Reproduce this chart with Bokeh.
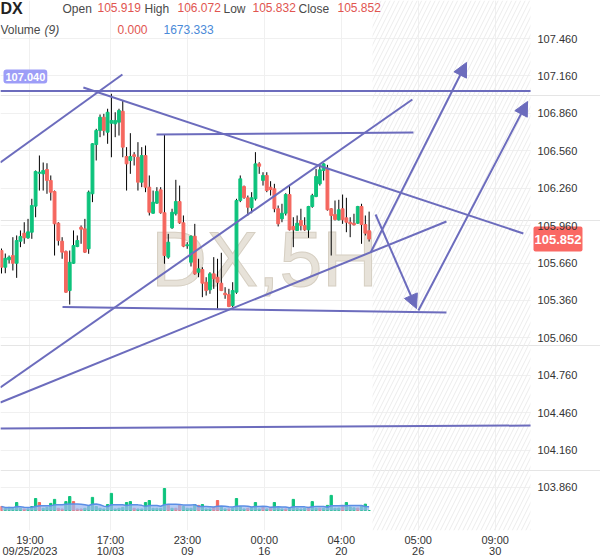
import pandas as pd
from bokeh.plotting import figure
from bokeh.models import (Range1d, FixedTicker, Label, BoxAnnotation, Arrow, NormalHead,
                          ColumnDataSource, Grid)
from bokeh.embed import file_html
from bokeh.resources import INLINE

FONT = "Liberation Sans"

# ---------------- data ----------------
symbol = "DX"
open_ = [105.760, 105.626, 105.686, 105.720, 105.658, 105.835, 105.899, 105.862, 105.907, 106.116,
         106.380, 106.375, 106.410, 106.322, 106.233, 105.979, 105.835, 105.752, 105.439, 105.658,
         105.792, 105.947, 105.934, 105.774, 106.215, 106.610, 106.723, 106.829, 106.709, 106.781,
         106.776, 106.789, 106.877, 106.514, 106.482, 106.528, 106.508, 106.308, 106.522, 106.268,
         106.059, 106.140, 106.247, 106.063, 105.707, 105.942, 106.055, 106.153, 105.982, 105.798,
         105.666, 105.875, 105.586, 105.608, 105.506, 105.445, 105.573, 105.546, 105.498, 105.418,
         105.407, 105.319, 105.426, 106.161, 106.273, 106.183, 106.103, 106.175, 106.455, 106.322,
         106.362, 106.268, 106.255, 106.095, 106.014, 106.059, 106.209, 105.953, 105.921, 106.001,
         105.961, 105.926, 106.113, 106.193, 106.295, 106.402, 106.420, 106.095, 106.049, 106.006,
         106.095, 106.022, 105.987, 105.979, 105.979, 106.113, 105.969, 105.919]
high_ = [105.776, 105.736, 105.720, 105.867, 105.881, 105.921, 105.987, 106.014, 106.175, 106.402,
         106.522, 106.466, 106.460, 106.362, 106.241, 105.987, 105.867, 105.760, 105.760, 105.921,
         105.881, 105.961, 106.014, 106.241, 106.620, 106.736, 106.851, 106.856, 106.897, 107.017,
         106.869, 106.897, 106.963, 106.589, 106.701, 106.549, 106.629, 106.589, 106.602, 106.362,
         106.241, 106.268, 106.268, 106.688, 105.894, 106.095, 106.327, 106.281, 106.041, 105.827,
         105.881, 105.974, 105.694, 105.626, 105.546, 105.586, 105.707, 105.694, 105.742, 105.466,
         105.453, 105.506, 106.175, 106.362, 106.281, 106.201, 106.228, 106.549, 106.468, 106.388,
         106.388, 106.316, 106.295, 106.121, 106.135, 106.220, 106.281, 106.027, 106.041, 106.095,
         106.027, 106.118, 106.215, 106.415, 106.442, 106.460, 106.447, 106.100, 106.161, 106.167,
         106.209, 106.183, 106.027, 106.055, 106.118, 106.135, 106.041, 106.072]
low_ = [105.576, 105.578, 105.656, 105.600, 105.541, 105.787, 105.814, 105.854, 105.854, 106.027,
        106.241, 106.241, 106.215, 106.161, 105.720, 105.800, 105.694, 105.421, 105.327, 105.654,
        105.787, 105.814, 105.740, 105.734, 106.148, 106.482, 106.669, 106.682, 106.616, 106.508,
        106.669, 106.682, 106.508, 106.241, 106.375, 106.442, 106.241, 106.268, 106.228, 106.041,
        106.055, 106.135, 106.055, 105.654, 105.694, 105.934, 106.041, 105.974, 105.787, 105.774,
        105.632, 105.566, 105.546, 105.386, 105.399, 105.413, 105.453, 105.293, 105.435, 105.373,
        105.306, 105.306, 105.413, 106.148, 106.175, 106.041, 106.059, 106.161, 106.375, 106.281,
        106.228, 106.201, 106.067, 105.953, 105.987, 106.041, 105.921, 105.787, 105.918, 105.921,
        105.918, 105.862, 106.103, 106.188, 106.281, 106.322, 106.080, 105.720, 106.001, 106.001,
        105.974, 105.907, 105.867, 105.961, 105.974, 105.814, 105.881, 105.832]
close_ = [105.626, 105.698, 105.707, 105.658, 105.840, 105.873, 105.862, 105.910, 106.121, 106.394,
          106.388, 106.402, 106.322, 106.228, 105.974, 105.840, 105.747, 105.426, 105.666, 105.800,
          105.840, 105.931, 105.747, 106.228, 106.616, 106.723, 106.829, 106.723, 106.869, 106.803,
          106.803, 106.883, 106.589, 106.455, 106.514, 106.514, 106.308, 106.522, 106.268, 106.067,
          106.148, 106.233, 106.063, 105.720, 105.827, 106.067, 106.153, 105.982, 105.795, 105.806,
          105.875, 105.573, 105.613, 105.498, 105.439, 105.573, 105.533, 105.506, 105.439, 105.405,
          105.311, 105.439, 106.161, 106.335, 106.185, 106.107, 106.183, 106.455, 106.436, 106.362,
          106.241, 106.249, 106.095, 105.974, 106.059, 106.209, 105.926, 105.926, 105.979, 105.961,
          105.926, 106.113, 106.201, 106.354, 106.407, 106.455, 106.087, 106.041, 106.009, 106.087,
          106.006, 105.987, 105.974, 105.966, 106.113, 105.969, 105.899, 105.852]
volume = [1800, 1000, 1400, 1000, 3600, 1000, 700, 700, 1800, 5400,
          3600, 1000, 1400, 3200, 5000, 1000, 700, 4000, 6300, 4000,
          700, 700, 1000, 1800, 5900, 1800, 1000, 700, 2700, 7700,
          700, 1000, 1400, 3600, 4000, 1000, 700, 700, 3600, 4500,
          1000, 1000, 1000, 9900, 2700, 1000, 1000, 2700, 1800, 1000,
          1000, 2700, 2300, 2700, 700, 700, 1400, 4500, 1800, 700,
          700, 1000, 5400, 1800, 700, 1000, 1400, 3600, 700, 1400,
          700, 1400, 3600, 1000, 700, 700, 1000, 5000, 1000, 700,
          1000, 1400, 4000, 1000, 1000, 1000, 2300, 6800, 1000, 1100,
          1700, 3600, 1600, 1200, 1100, 1900, 2860, 0]
vol_dir = list("rgggggrgggrgggg" "rrggrrrgggggggggg" "gggrggggggggrgrr" "ggggrgggrrgg"
               "rggggrgggrgrgggrgggggrggrgggggrgggrg")
vol_dir = (vol_dir + ["g"] * 98)[:98]
ma_period = 9

x_ticks = [7.5, 28.75, 49.05, 69.35, 89.65, 109.95, 130.25]
x_tick_labels = ["19:00\n09/25/2023", "17:00\n10/03", "23:00\n09", "00:00\n16",
                 "04:00\n20", "05:00\n26", "09:00\n30"]
y_ticks = [103.860, 104.160, 104.460, 104.760, 105.060, 105.360, 105.660,
           105.960, 106.260, 106.560, 106.860, 107.160, 107.460]

# drawn trend lines (bar index, price)
tl_x0 = [-0.3, -0.3, 40.9, 16.1, 21.6, -0.3, -0.3, -0.3]
tl_y0 = [107.040, 104.333, 106.690, 105.307, 107.067, 106.466, 104.662, 104.541]
tl_x1 = [139.6, 139.6, 108.7, 117.4, 137.7, 31.9, 108.4, 117.4]
tl_y1 = [107.040, 104.357, 106.707, 105.263, 105.897, 107.172, 106.971, 105.993]
# arrows
ar_x0 = [98.7, 97.4, 110.0]
ar_y0 = [106.049, 105.744, 105.279]
ar_x1 = [109.5, 122.7, 138.8]
ar_y1 = [105.295, 107.268, 106.955]

hline_label = "107.040"
last_price = 105.852
future_start = 97.9
chart_end = 139.58          # right edge of the price pane (bar index)
watermark_pos = (69.4, 105.69)

# ---------------- figure ----------------
GREEN = "#0dc37c"
RED = "#f5675f"
LINE = "#6c6cbd"
GRIDC = "#f0f0f0"

p = figure(frame_width=600, frame_height=530, output_backend="svg", toolbar_location=None,
           x_range=Range1d(-0.264, 158.05), y_range=Range1d(103.515, 107.765),
           y_axis_location=None, min_border_left=0, min_border_top=0,
           min_border_right=0, min_border_bottom=28)
p.outline_line_color = None
p.background_fill_color = "white"
p.border_fill_color = "white"

# x axis
xt = FixedTicker(ticks=x_ticks)
ax = p.xaxis[0]
ax.ticker = xt
ax.major_label_overrides = {t: l for t, l in zip(x_ticks, x_tick_labels)}
ax.axis_line_color = None
ax.major_tick_line_color = None
ax.minor_tick_line_color = None
ax.major_tick_out = 0
ax.major_tick_in = 0
ax.major_label_text_font = FONT
ax.major_label_text_font_size = "11px"
ax.major_label_text_color = "#333333"
ax.major_label_text_line_height = 0.95
ax.major_label_standoff = 3
p.xgrid.ticker = xt
p.xgrid.grid_line_color = GRIDC

# horizontal price grid (stops at the price scale)
yg = Grid(dimension=1, ticker=FixedTicker(ticks=y_ticks), grid_line_color=GRIDC)
try:
    yg.cross_bounds = (-0.264, chart_end)
except Exception:
    pass
p.add_layout(yg)

# future hatched area
p.add_layout(BoxAnnotation(left=future_start, right=chart_end, fill_alpha=0, line_color=None,
                           hatch_pattern="/", hatch_color="#ececec", hatch_scale=9,
                           hatch_weight=1, level="underlay"))

# watermark
wm = Label(x=watermark_pos[0], y=watermark_pos[1], text="DX,5H",
           text_align="center", text_baseline="alphabetic", text_font=FONT,
           text_font_size="77px", text_color="#e7e2d9", level="underlay")
try:
    wm.text_outline_color = "#d6cfc2"
except Exception:
    pass
p.add_layout(wm)

# volume
p.extra_y_ranges = {"vol": Range1d(-9000, 229500)}
idx = list(range(len(close_)))
ma = pd.Series(volume).rolling(ma_period, min_periods=1).mean().tolist()
vsrc = ColumnDataSource(dict(x=idx, v=volume,
                             c=[GREEN if d == "g" else RED for d in vol_dir], ma=ma,
                             zero=[0] * len(idx)))
p.vbar(x="x", top="v", bottom=0, width=0.6, color="c", source=vsrc, y_range_name="vol")
p.varea(x="x", y1="zero", y2="ma", source=vsrc, fill_color="#9db9f0", fill_alpha=0.75,
        y_range_name="vol")
p.line(x="x", y="ma", source=vsrc, line_color="#5b8ee6", line_width=1.5, y_range_name="vol")

# candles
csrc = ColumnDataSource(dict(
    x=idx, o=open_, h=high_, l=low_, c=close_,
    top=[max(o, c) for o, c in zip(open_, close_)],
    bot=[min(o, c) for o, c in zip(open_, close_)],
    col=[GREEN if c >= o else RED for o, c in zip(open_, close_)]))
p.segment(x0="x", y0="h", x1="x", y1="l", source=csrc, line_color="black", line_width=1)
p.vbar(x="x", top="top", bottom="bot", width=0.75, fill_color="col", line_color="col",
       source=csrc)

# trend lines
p.segment(x0=tl_x0, y0=tl_y0, x1=tl_x1, y1=tl_y1, line_color=LINE, line_width=2)
for x0, y0, x1, y1 in zip(ar_x0, ar_y0, ar_x1, ar_y1):
    p.add_layout(Arrow(x_start=x0, y_start=y0, x_end=x1, y_end=y1, line_color=LINE,
                       line_width=2,
                       end=NormalHead(size=14, fill_color=LINE, line_color=LINE)))

# last-price tag (drawn first so the scale labels stay readable)
p.add_layout(Label(x=533, y=last_price, x_units="screen", y_units="data",
                   text=f"{last_price:.3f}", text_font=FONT, text_font_size="13px",
                   text_font_style="bold", text_color="white", text_baseline="middle",
                   background_fill_color="#fa6964", padding=(1, 8), border_radius=2))

# price scale labels
for t in y_ticks:
    p.add_layout(Label(x=537, y=t, x_units="screen", y_units="data", text=f"{t:.3f}",
                       text_font=FONT, text_font_size="11px", text_color="#333333",
                       text_baseline="middle"))

# horizontal line tag
p.add_layout(Label(x=3, y=454, x_units="screen", y_units="screen", text=hline_label,
                   text_font=FONT, text_font_size="11px", text_font_style="bold",
                   text_color="white", text_baseline="middle",
                   background_fill_color="#9d9df7", padding=(2, 3), border_radius=3))

# header legend
def hdr(x, y, text, color="#4a4a4a", size="12px", style="normal"):
    p.add_layout(Label(x=x, y=530 - y, x_units="screen", y_units="screen", text=text,
                       text_font=FONT, text_font_size=size, text_font_style=style,
                       text_color=color, text_baseline="middle"))

RV = "#e15550"
hdr(0, 8, symbol, "#222222", "16px", "bold")
hdr(62, 8.5, "Open")
hdr(97, 6.5, f"{open_[-1]:.3f}", RV)
hdr(144, 8.5, "High")
hdr(177, 6.5, f"{high_[-1]:.3f}", RV)
hdr(223, 8.5, "Low")
hdr(252, 6.5, f"{low_[-1]:.3f}", RV)
hdr(298, 8.5, "Close")
hdr(337, 6.5, f"{close_[-1]:.3f}", RV)
hdr(0, 29, "Volume")
hdr(44, 29, f"({ma_period})", style="italic")
hdr(117, 29, f"{volume[-1]:.3f}", RV)
hdr(163, 29, f"{ma[-1]:.3f}", "#4a8ad8")

open("out.html", "w").write(file_html(p, INLINE))
